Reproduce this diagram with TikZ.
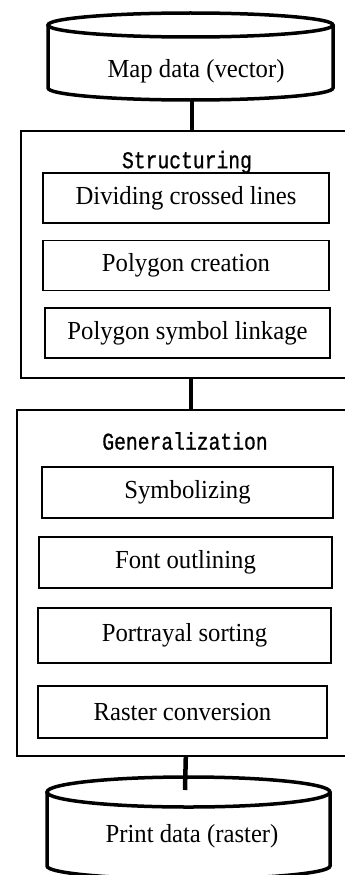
\documentclass[tikz,border=0pt]{standalone}
\usepackage{fontspec}
\setmainfont{Liberation Serif}[FakeStretch=0.95]
\newfontfamily\titlefont{Liberation Mono}[FakeStretch=0.82,FakeBold=0.8]
\usetikzlibrary{positioning}

\begin{document}
\begin{tikzpicture}[x=1pt,y=-1pt,
  store/.style={line width=3.5pt},
  storename/.style={font=\fontsize{26}{30}\selectfont},
  link/.style={line width=4.5pt},
  group/.style={draw,line width=1.6pt,anchor=north west,inner sep=0pt},
  task/.style={draw,line width=1.6pt,minimum height=50pt,inner sep=0pt,
    font=\fontsize{26}{30}\selectfont},
  heading/.style={font=\titlefont\fontsize{24}{28}\selectfont}]

\useasboundingbox (0,0) rectangle (345,875);

% input store
\draw[store] (48,25) -- (48,88) arc[start angle=180,end angle=0,x radius=142.5,y radius=12] -- (333,25);
\draw[store] (190.5,25) ellipse [x radius=142.5,y radius=12];
\node[storename] (mapdata) at (196,71) {Map data (vector)};
\coordinate (mapbase) at (192,100);

% structuring stage
\node[group,minimum width=340pt,minimum height=247pt] (struct) at (20,130) {};
\node[heading] (structtitle) at (187,162) {Structuring};
\node[task,minimum width=286pt] (divide) at (186,198) {Dividing crossed lines};
\node[task,minimum width=286pt,below=16pt of divide] (polygon) {Polygon creation};
\node[task,minimum width=285pt] (linkage) at (187.5,333) {Polygon symbol linkage};

% generalization stage
\node[group,minimum width=338pt,minimum height=346pt] (gen) at (16,409) {};
\node[heading] (gentitle) at (185,441) {Generalization};
\node[task,minimum width=291pt,minimum height=51pt] (symbol) at (187.5,492.5) {Symbolizing};
\node[task,minimum width=293pt,minimum height=51pt] (outline) at (185.5,562.5) {Font outlining};
\node[task,minimum width=293pt,minimum height=55pt] (sorting) at (184.5,635.5) {Portrayal sorting};
\node[task,minimum width=289pt,minimum height=52pt] (raster) at (182.5,712) {Raster conversion};

% output store
\coordinate (printtop) at (185,790);
\draw[store] (47,792) -- (47,866) arc[start angle=180,end angle=0,x radius=141.5,y radius=13] -- (330,792);
\draw[store] (188.5,792) ellipse [x radius=141.5,y radius=15];
\node[storename] (printdata) at (192,836) {Print data (raster)};

\draw[link] (mapbase) -- (mapbase |- struct.north);
\draw[link] (struct.south) -- (struct.south |- gen.north);
\draw[link] (gen.south) -- (printtop);
\end{tikzpicture}
\end{document}
